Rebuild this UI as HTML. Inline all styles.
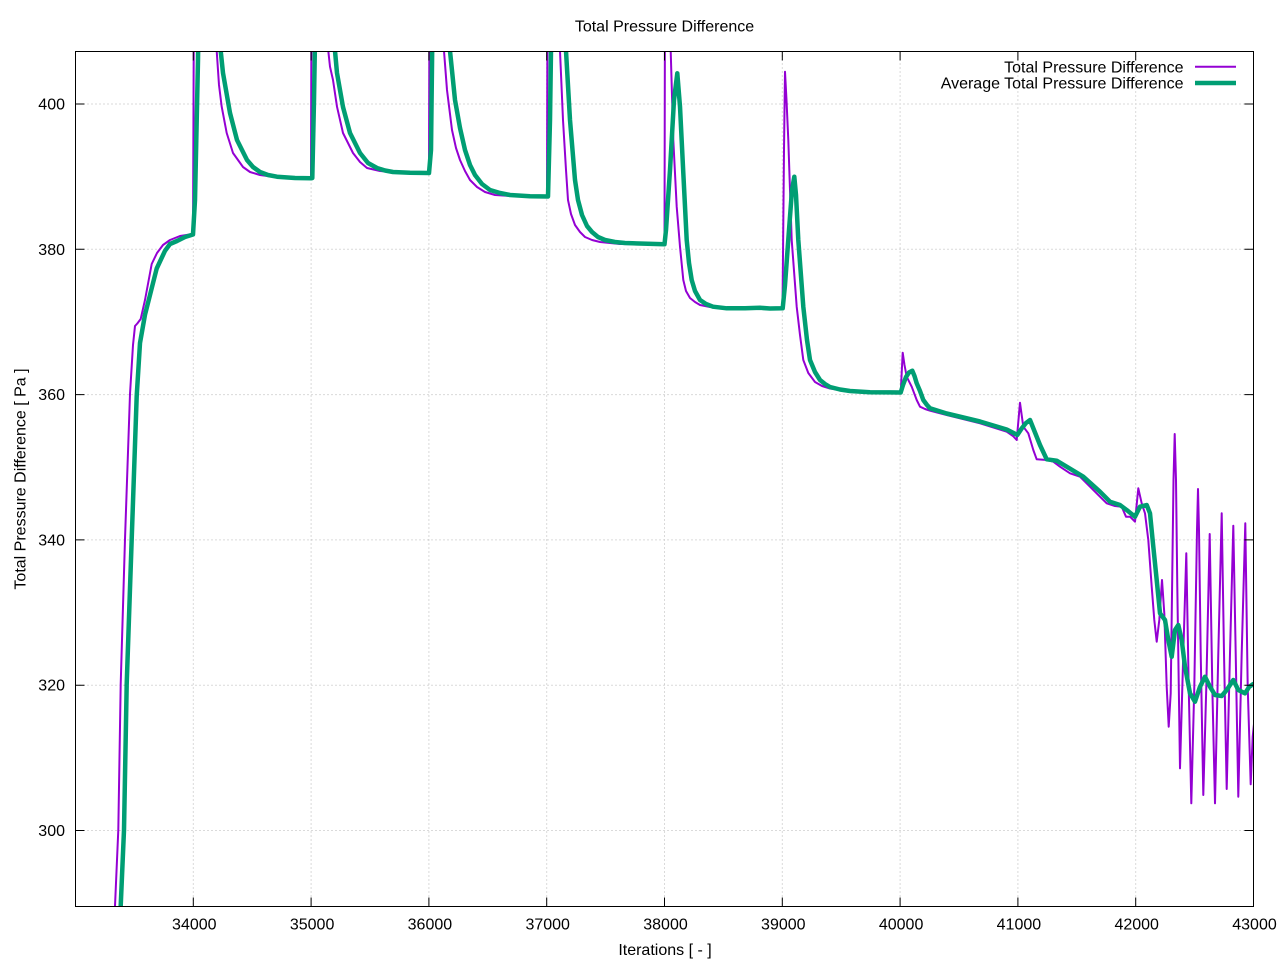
<!DOCTYPE html>
<html><head><meta charset="utf-8"><style>
html,body{margin:0;padding:0;background:#fff;}
svg{display:block;}
text{font-family:"Liberation Sans",Arial,sans-serif;font-size:16px;fill:#000;}
</style></head><body>
<svg width="1280" height="960" viewBox="0 0 1280 960" xmlns="http://www.w3.org/2000/svg">
<defs><clipPath id="pc"><rect x="75.5" y="51.5" width="1178" height="855"/></clipPath></defs>
<rect width="1280" height="960" fill="#fff"/>
<g stroke="#b4b4b4" stroke-width="1" stroke-dasharray="1,3" fill="none">
<line x1="193.3" y1="51.5" x2="193.3" y2="906.5"/>
<line x1="311.1" y1="51.5" x2="311.1" y2="906.5"/>
<line x1="428.9" y1="51.5" x2="428.9" y2="906.5"/>
<line x1="546.7" y1="51.5" x2="546.7" y2="906.5"/>
<line x1="664.5" y1="51.5" x2="664.5" y2="906.5"/>
<line x1="782.3" y1="51.5" x2="782.3" y2="906.5"/>
<line x1="900.1" y1="51.5" x2="900.1" y2="906.5"/>
<line x1="1017.9" y1="51.5" x2="1017.9" y2="906.5"/>
<line x1="1135.7" y1="51.5" x2="1135.7" y2="906.5"/>
<line x1="75.5" y1="104" x2="1253.5" y2="104"/>
<line x1="75.5" y1="249.3" x2="1253.5" y2="249.3"/>
<line x1="75.5" y1="394.6" x2="1253.5" y2="394.6"/>
<line x1="75.5" y1="539.9" x2="1253.5" y2="539.9"/>
<line x1="75.5" y1="685.2" x2="1253.5" y2="685.2"/>
<line x1="75.5" y1="830.5" x2="1253.5" y2="830.5"/>
</g>
<g clip-path="url(#pc)" fill="none" stroke-linejoin="round" stroke-linecap="round">
<path stroke="#9400d3" stroke-width="2" d="M115,906 L118.3,830 L120.7,684 L125,539 L130,394 L133,345 L135,326 L137.3,323.5 L140.7,319 L145,300 L151.7,264 L157,253 L163,245 L170,240 L180,236 L193,234 L194,-20 L214,-20 L216.7,51 L219,85 L221.7,106.7 L226.7,133 L233,153 L243,167 L250,172 L260,175 L275,177 L293,177.5 L311,177.7 L311.5,-20 L326,-20 L328.3,51 L330,66.7 L333,80 L337,106.7 L343,133 L353,153 L360,162 L367,168 L380,171 L393,172 L427,172.7 L429,172.7 L429.5,-20 L442,-20 L444,51 L447,90 L452,130 L456,148 L460,160 L465,171 L470,180 L477,187 L485,192 L495,195 L510,196 L547,196.3 L547.5,-20 L558,-20 L560,51 L563,120 L566,170 L568,200 L571,214 L575,225 L580,232 L585,237 L592,240 L600,242 L620,244 L664.5,244.3 L665,-20 L669,-20 L670.7,51 L673.3,140 L676.7,206.7 L680,246.7 L683.3,280 L686,291 L690,298 L695,302 L700,305 L710,307 L723,308.3 L740,308.5 L760,308 L782.5,308.3 L784,150 L785,71.7 L786.5,100 L788.3,140 L791.7,240 L796.7,306.7 L800,335 L803.3,360 L808.3,373 L815,382 L822,386 L830,388.5 L850,391.5 L870,392.5 L900.7,393 L902.7,352.7 L904.5,365 L906.7,376.7 L911.7,386.7 L916.7,400 L920,406.7 L925,409 L930,410.7 L946.7,415 L980,423.3 L1006.7,431.7 L1013,436 L1016.7,440 L1020,402.7 L1023.3,426.7 L1028.3,433.3 L1033.3,450 L1036.7,459.3 L1046.7,460 L1053.3,461.7 L1060,466.7 L1070,473.3 L1080,476.7 L1090,486.7 L1100,496.7 L1106.7,503.3 L1115,506 L1121.7,506.7 L1126,516.7 L1130,516.7 L1135,521.7 L1138.3,488.3 L1141.7,503.3 L1145,513.3 L1148.3,540 L1151.7,586.7 L1154.3,620 L1156.7,641.7 L1159.3,620 L1162,580 L1164.3,613.3 L1166.7,686.7 L1168.7,726.7 L1170.7,693.3 L1173.5,480 L1174.7,434 L1176,480 L1177.3,586.7 L1180,768.3 L1183.3,653.3 L1186.3,553.3 L1188.7,686.7 L1191.3,803.3 L1194.3,686.7 L1197,530 L1198,489 L1199,530 L1200.7,653.3 L1203.3,795 L1206.3,686.7 L1209.7,534 L1212.3,686.7 L1215,803.3 L1218.3,653.3 L1221.7,513.3 L1224,653.3 L1226.7,789 L1230,653.3 L1233.3,525.7 L1235.7,653.3 L1238.3,796.7 L1241.7,653.3 L1245.3,523.3 L1247.7,686.7 L1250.7,784.3 L1252.7,736.7 L1254,724"/>
<path stroke="#009e73" stroke-width="4.5" d="M120.7,906 L124,830 L126.7,684 L131.7,539 L136.7,396 L140,343 L145,314.7 L150,295 L156.7,268.5 L165,250.8 L170,244 L177,241 L185,237 L193,234.5 L195,200 L198,60 L199,-20 L219,-20 L220.7,51 L223,73 L230,113 L237,140 L247,160 L253,167 L260,172 L268,175 L277,176.7 L295,178 L311,178.3 L312.3,178 L314,100 L316,-20 L333,-20 L335,51 L337,73 L343,107 L350,133 L360,153 L368,163 L377,168 L385,170.5 L393,172 L410,172.8 L429,173 L431,150 L433,-20 L448,-20 L450,51 L455,100 L460,128 L465,150 L470,165 L475,175 L482,184 L490,190 L500,193 L510,195 L530,196.3 L548,196.5 L550,120 L552,-20 L564,-20 L566,51 L570,120 L575,180 L578,200 L582,215 L587,226 L592,232 L598,237 L605,240 L615,242 L625,243 L664.5,244.3 L666,230 L670,170 L674,100 L677.3,73.3 L680,106.7 L683.3,173 L686.7,240 L689,263 L691.7,280 L695,291 L700,300 L706,304 L713,306.7 L726.7,308.3 L745,308.3 L760,307.8 L770,308.5 L782.7,308.3 L785,285 L789,230 L792,190 L794.3,176.7 L796,195 L798.3,240 L803.3,306.7 L807,340 L810,360 L815,372 L820,380 L825,384 L830,387 L840,389.5 L850,391 L870,392.3 L900.7,392.5 L903,385 L906,377 L909,372.5 L912.3,370.7 L914.5,376 L916.7,383.3 L920,391 L923.3,400 L927,405 L930,408.3 L946.7,413.5 L980,421.5 L1006.7,429.5 L1017.3,435 L1022,428 L1026,423 L1030,420 L1034,430 L1040,445 L1046.7,459.3 L1056.7,460.7 L1066.7,466.7 L1083.3,476.7 L1100,491.7 L1110,501.7 L1120,505 L1126.7,510 L1135,516.7 L1140,506.7 L1146.7,505 L1150,513.3 L1153.3,546.7 L1156.7,580 L1160,613.3 L1165,620 L1168.3,640 L1171.7,656.7 L1175,630 L1178.3,625 L1181.7,640 L1185,666.7 L1190,693.3 L1195,701.7 L1200,686.7 L1205,676.7 L1210,686.7 L1215,695 L1221.7,696 L1226.7,690 L1233.3,680 L1238.3,690 L1245,693.3 L1249.3,686.7 L1253.3,684"/>
</g>
<g stroke="#000" stroke-width="1" fill="none">
<rect x="75.5" y="51.5" width="1178" height="855"/>
<path d="M193.3,906.5v-9M311.1,906.5v-9M428.9,906.5v-9M546.7,906.5v-9M664.5,906.5v-9M782.3,906.5v-9M900.1,906.5v-9M1017.9,906.5v-9M1135.7,906.5v-9
M193.3,51.5v9M311.1,51.5v9M428.9,51.5v9M546.7,51.5v9M664.5,51.5v9M782.3,51.5v9M900.1,51.5v9M1017.9,51.5v9M1135.7,51.5v9
M75.5,104h9M75.5,249.3h9M75.5,394.6h9M75.5,539.9h9M75.5,685.2h9M75.5,830.5h9
M1253.5,104h-9M1253.5,249.3h-9M1253.5,394.6h-9M1253.5,539.9h-9M1253.5,685.2h-9M1253.5,830.5h-9"/>
</g>
<g text-anchor="end">
<text x="65" y="109.5">400</text>
<text x="65" y="254.8">380</text>
<text x="65" y="400.1">360</text>
<text x="65" y="545.4">340</text>
<text x="65" y="690.7">320</text>
<text x="65" y="836">300</text>
</g>
<g text-anchor="middle">
<text x="194.3" y="929.5">34000</text>
<text x="312.1" y="929.5">35000</text>
<text x="429.9" y="929.5">36000</text>
<text x="547.7" y="929.5">37000</text>
<text x="665.5" y="929.5">38000</text>
<text x="783.3" y="929.5">39000</text>
<text x="901.1" y="929.5">40000</text>
<text x="1018.9" y="929.5">41000</text>
<text x="1136.7" y="929.5">42000</text>
<text x="1254.5" y="929.5">43000</text>
<text x="664.5" y="31.5">Total Pressure Difference</text>
<text x="665" y="955">Iterations [ - ]</text>
<text transform="translate(25.5,479) rotate(-90)" x="0" y="0">Total Pressure Difference [ Pa ]</text>
</g>
<g text-anchor="end">
<text x="1183.5" y="72.5">Total Pressure Difference</text>
<text x="1183.5" y="88.5">Average Total Pressure Difference</text>
</g>
<line x1="1195" y1="66.7" x2="1236" y2="66.7" stroke="#9400d3" stroke-width="2"/>
<line x1="1195" y1="83" x2="1236" y2="83" stroke="#009e73" stroke-width="4.5"/>
</svg>
</body></html>
